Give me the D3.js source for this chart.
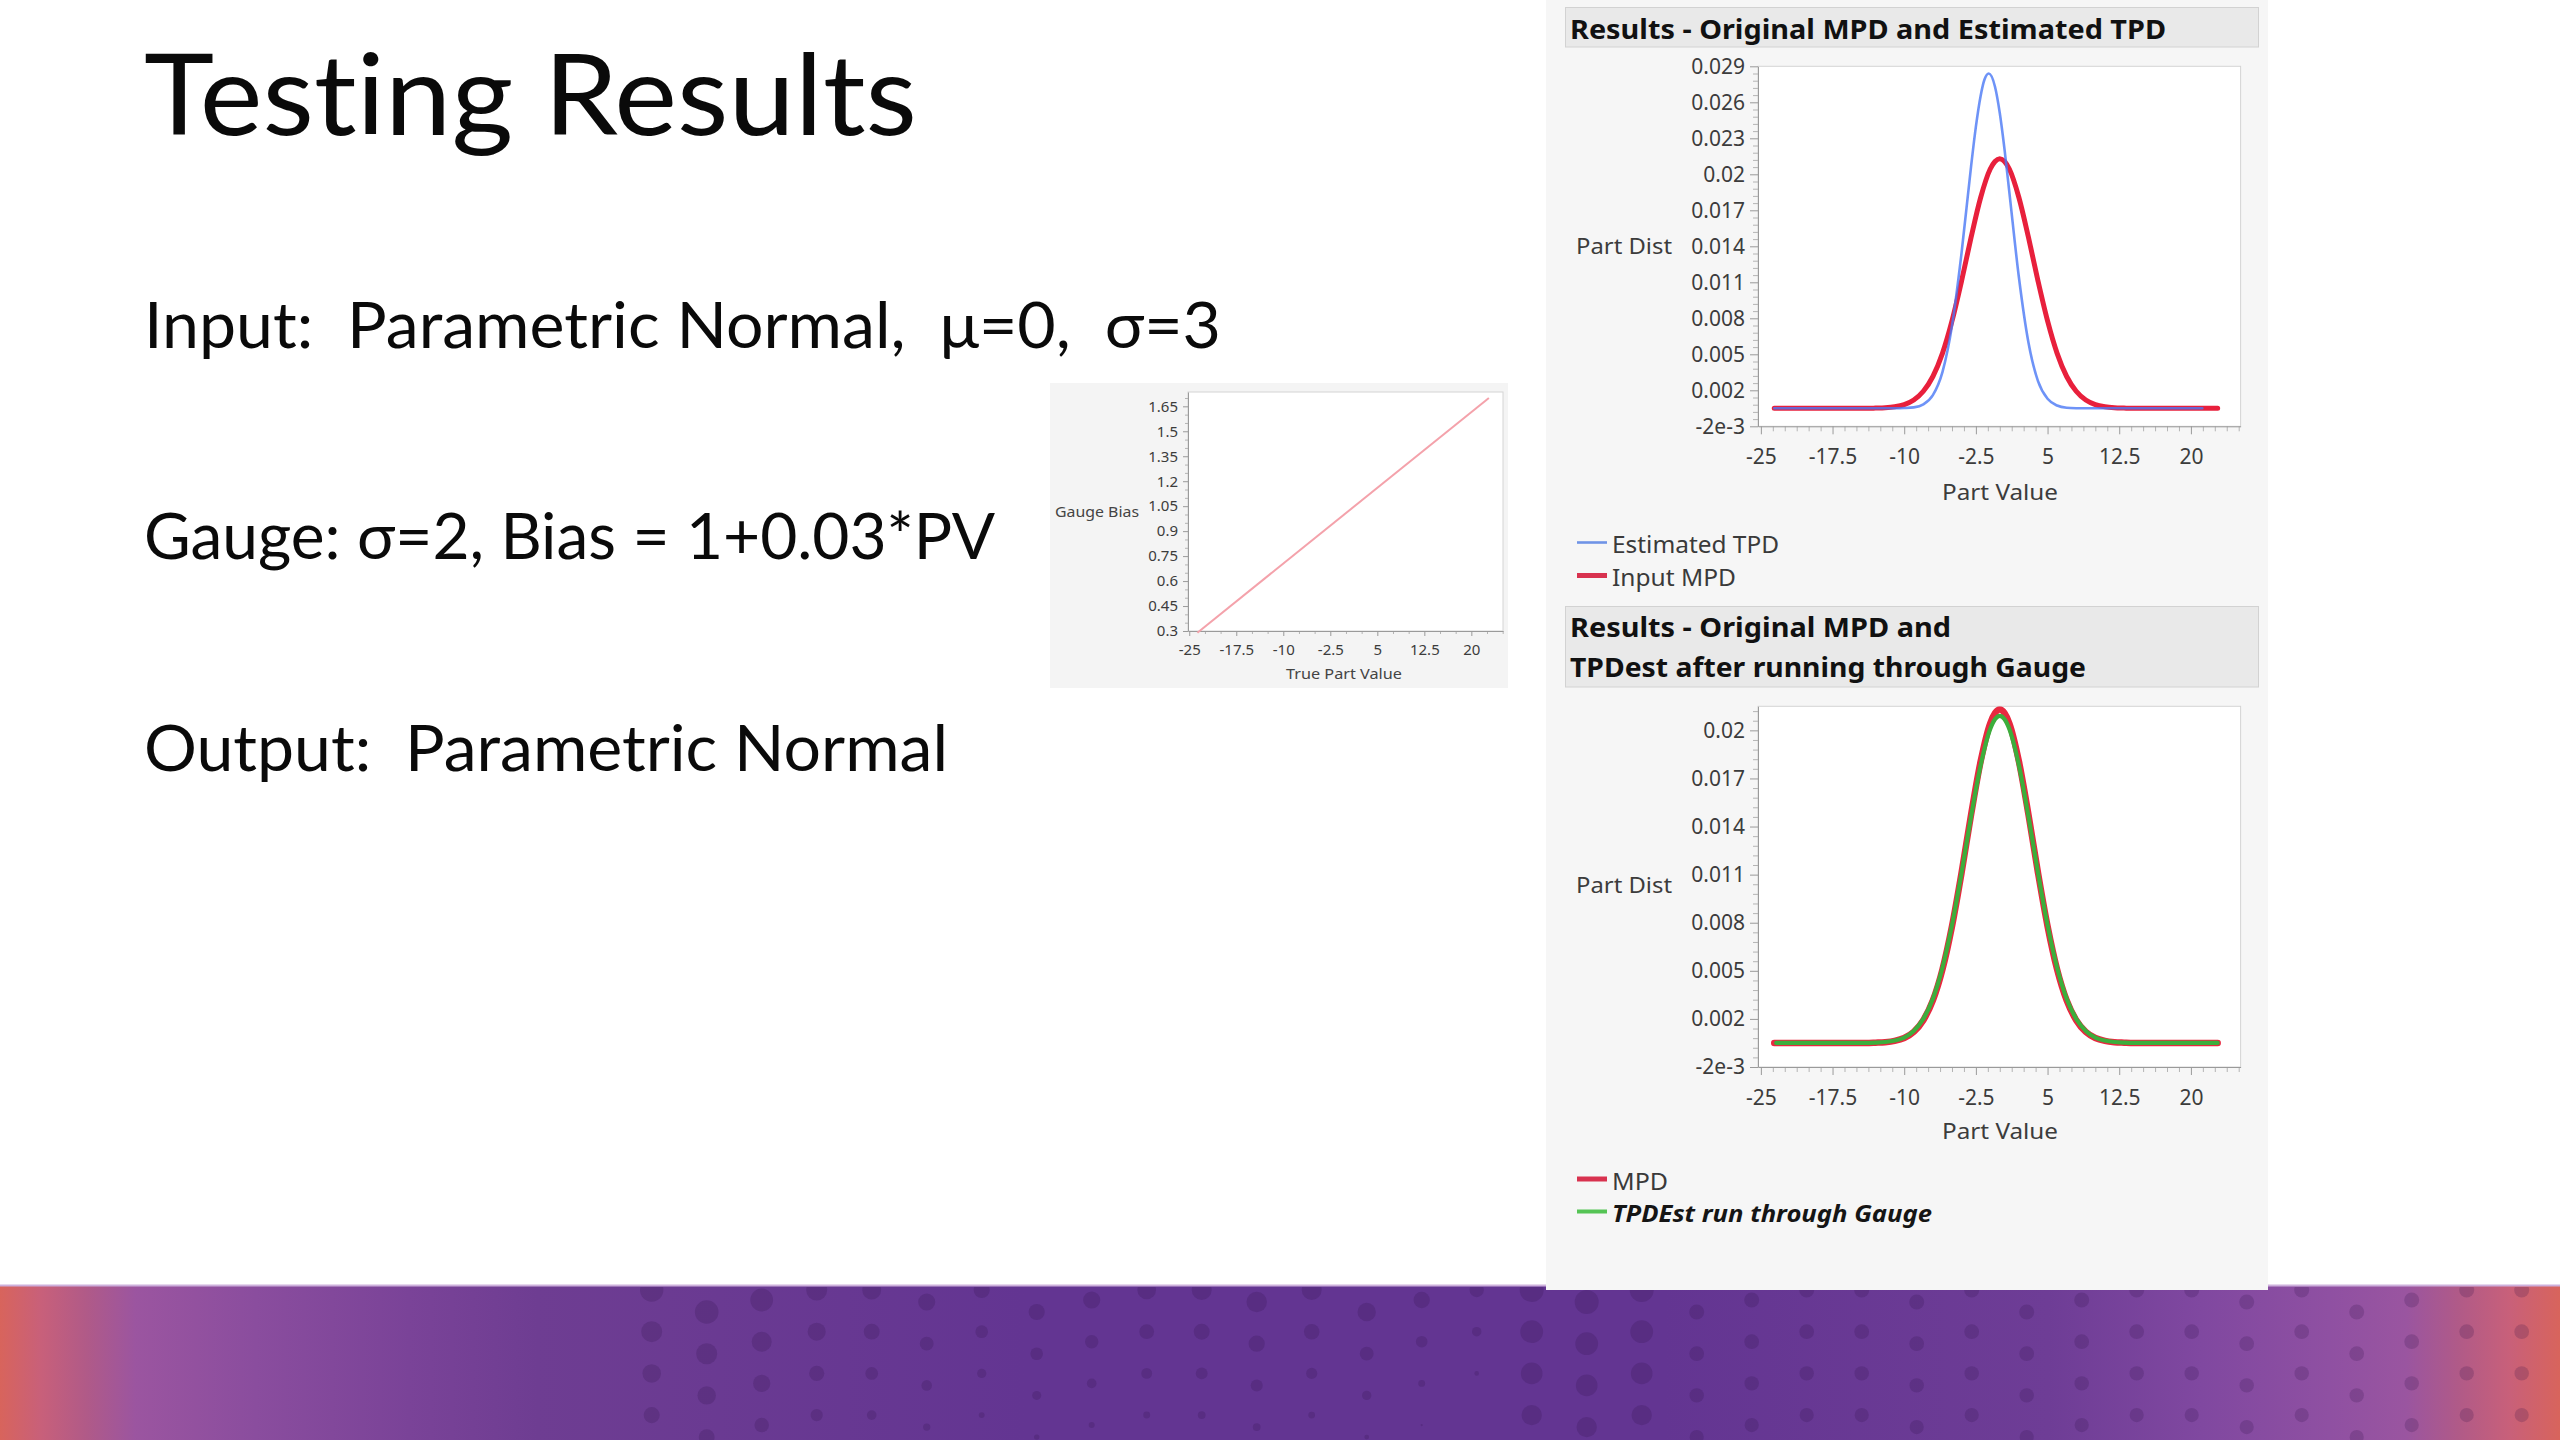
<!DOCTYPE html>
<html>
<head>
<meta charset="utf-8">
<script src="https://cdn.jsdelivr.net/npm/d3@7"></script>
<style>
  body { margin: 0; background: #fff; }
  svg { display: block; }
  text { font-variant-ligatures: none; }
</style>
</head>
<body>
<div id="chart"></div>
<script>
// ---- data ----

// gauge bias vs true part value (small inset)
const biasPV = [-23.7, 22.8];
const biasValue = [0.29, 1.70];
const biasTicks = [0.3, 0.45, 0.6, 0.75, 0.9, 1.05, 1.2, 1.35, 1.5, 1.65];
const biasLabels = ["0.3", "0.45", "0.6", "0.75", "0.9", "1.05", "1.2", "1.35", "1.5", "1.65"];

// part value axis (shared)
const partTicks = [-25, -17.5, -10, -2.5, 5, 12.5, 20];
const partLabels = ["-25", "-17.5", "-10", "-2.5", "5", "12.5", "20"];

// part dist axis ticks (JMP rounds the labels)
const topDistTicks = [-0.0015, 0.0015, 0.0045, 0.0075, 0.0105, 0.0135, 0.0165, 0.0195, 0.0225, 0.0255, 0.0285];
const topDistLabels = ["-2e-3", "0.002", "0.005", "0.008", "0.011", "0.014", "0.017", "0.02", "0.023", "0.026", "0.029"];
const bottomDistTicks = [-0.0015, 0.0015, 0.0045, 0.0075, 0.0105, 0.0135, 0.0165, 0.0195];
const bottomDistLabels = ["-2e-3", "0.002", "0.005", "0.008", "0.011", "0.014", "0.017", "0.02"];

// Estimated TPD (blue)
const tpdX = [-23.6, -18, -14, -12, -11, -10, -9, -8, -7, -6, -5, -4, -3, -2.5, -2, -1.6, -1.15, -0.5, 0, 0.5,
  1, 2, 3, 4, 5, 6, 7, 8, 9, 12, 16, 21.2];
const tpdY = [0, 0, 0, 0, 0, 0.00002, 0.00008, 0.00033, 0.00110, 0.00302, 0.00687, 0.01294, 0.02018, 0.02347, 0.02605, 0.0274, 0.0279, 0.0268, 0.02461, 0.02156,
  0.01802, 0.01092, 0.00548, 0.00227, 0.00079, 0.00023, 0.00005, 0.00001, 0, 0, 0, 0];

// Input MPD / MPD (red)
const mpdX = [-23.6, -20, -16, -14, -13, -12, -11, -10, -9, -8, -7, -6, -5, -4, -3, -2, -1, -0.5, 0,
  0.5, 1, 2, 3, 4, 5, 6, 7, 8, 9, 10, 11, 12, 13, 14, 16, 20, 22.8];
const mpdY = [0, 0, 0, 0, 0.00002, 0.00005, 0.00013, 0.00031, 0.00069, 0.00142, 0.00265, 0.00458, 0.00728, 0.01061, 0.01425, 0.01757, 0.01994, 0.02057, 0.0208,
  0.02057, 0.01994, 0.01757, 0.01425, 0.01061, 0.00728, 0.00458, 0.00265, 0.00142, 0.00069, 0.00031, 0.00013, 0.00005, 0.00002, 0, 0, 0, 0];

// TPDEst run through gauge (green)
const gaugeX = [-23.4, -20, -16, -14, -13, -12, -11, -10, -9, -8, -7, -6, -5, -4, -3, -2, -1, -0.5, 0,
  0.5, 1, 2, 3, 4, 5, 6, 7, 8, 9, 10, 11, 12, 13, 14, 16, 20, 22.8];
const gaugeY = [0, 0, 0, 0, 0.00002, 0.00006, 0.00015, 0.00034, 0.00075, 0.00150, 0.00276, 0.00469, 0.00735, 0.01061, 0.01413, 0.01732, 0.01958, 0.02019, 0.0204,
  0.02019, 0.01958, 0.01732, 0.01413, 0.01061, 0.00735, 0.00469, 0.00276, 0.00150, 0.00075, 0.00034, 0.00015, 0.00006, 0.00002, 0, 0, 0, 0];

// ---- drawing ----
const W = 2560, H = 1440;
const UI = "'Noto Sans', 'Open Sans', sans-serif";
const SLIDE = "Lato, 'Noto Sans', sans-serif";

const svg = d3.select("#chart").append("svg")
  .attr("width", W).attr("height", H)
  .attr("viewBox", [0, 0, W, H])
  .style("background", "#fff");
const defs = svg.append("defs");

// stretch/squeeze text to the width measured on the slide
function fit(sel, w) {
  const cur = sel.node().getComputedTextLength();
  if (Math.abs(cur - w) / w > 0.015) sel.attr("textLength", w).attr("lengthAdjust", "spacingAndGlyphs");
  return sel;
}

// bottom band
const BAND = 1285;
const grad = defs.append("linearGradient").attr("id", "band").attr("x1", 0).attr("x2", 1).attr("y1", 0).attr("y2", 0);
[[0, "#d8645c"], [0.016, "#c8607a"], [0.034, "#b05a88"], [0.053, "#9b55a0"], [0.1, "#8a4d9e"],
 [0.16, "#7a4398"], [0.21, "#6e3d92"], [0.4, "#633592"], [0.65, "#633592"], [0.8, "#6e3d96"],
 [0.86, "#8048a0"], [0.91, "#8f50a2"], [0.94, "#9a55a0"], [0.96, "#b05a88"], [0.98, "#c8607a"], [1, "#d8645c"]]
  .forEach(([o, c]) => grad.append("stop").attr("offset", o).attr("stop-color", c));

svg.append("rect").attr("x", 0).attr("y", BAND).attr("width", W).attr("height", H - BAND).attr("fill", "url(#band)");
svg.append("line").attr("x1", 0).attr("x2", W).attr("y1", BAND + 0.5).attr("y2", BAND + 0.5)
  .attr("stroke", "#cdb0dc").attr("stroke-width", 2);

// halftone dots on the band
defs.append("clipPath").attr("id", "bandClip").append("rect")
  .attr("x", 0).attr("y", BAND + 2).attr("width", W).attr("height", H - BAND);
const dots = svg.append("g").attr("clip-path", "url(#bandClip)")
  .attr("fill", "#2b0d48").attr("fill-opacity", 0.2);
for (let k = -9; k <= 26; k++) {
  const cx = 1146.7 + 55 * k;
  if (cx < 630 || cx > W + 10) continue;
  const off = [0, 0, 12, 0, 22, 10][((k % 6) + 6) % 6];
  for (let row = 0; row < 5; row++) {
    const cy = 1290 + off + row * 41.7;
    let r;
    if (cx < 1520) {
      const t = (cx - 640) / 880;
      r = 10.5 - 2.5 * t + 1.5 * Math.sin(cx / 90) - (1.2 + 1.3 * t) * row;
    } else if (cx < 1660) {
      r = 12 - 0.6 * row;
    } else {
      r = 7.5 - 0.15 * row;
    }
    if (r > 1) dots.append("circle").attr("cx", cx).attr("cy", cy).attr("r", r);
  }
}

// slide text
fit(svg.append("text").attr("x", 144).attr("y", 135)
  .attr("font-family", SLIDE).attr("font-size", 113).attr("fill", "#0a0a0a")
  .text("Testing Results"), 773);

const lines = [
  ["Input:  Parametric Normal,  \u03bc=0,  \u03c3=3", 348, 1077],
  ["Gauge: \u03c3=2, Bias = 1+0.03*PV", 559, 863],
  ["Output:  Parametric Normal", 771, 804]
];
lines.forEach(([t, y, w]) => {
  fit(svg.append("text").attr("x", 144).attr("y", y)
    .attr("font-family", SLIDE).attr("font-size", 64).attr("fill", "#0a0a0a")
    .style("white-space", "pre").text(t), w);
});

// axis styling helper
function styleAxis(g, fs) {
  g.selectAll("line").attr("stroke", "#9a9a9a");
  g.selectAll("path").attr("stroke", "#9a9a9a");
  g.selectAll("text").attr("fill", "#3c3c3c").attr("font-family", UI).attr("font-size", fs);
}
function minorAxis(g, axisFn, scale, values, size) {
  g.call(axisFn(scale).tickValues(values).tickSize(size).tickFormat(""));
  g.select(".domain").remove();
  g.selectAll("line").attr("stroke", "#b4b4b4");
}

// ---- inset: gauge bias ----
{
  svg.append("rect").attr("x", 1050).attr("y", 383).attr("width", 458).attr("height", 305).attr("fill", "#f4f4f4");
  const L = 1188, R = 1503, T = 392, B = 631;
  const x = d3.scaleLinear().domain([-25.2, 25.05]).range([L, R]);
  const y = d3.scaleLinear().domain([0.3, 1.736]).range([B, T]);
  svg.append("rect").attr("x", L).attr("y", T).attr("width", R - L).attr("height", B - T)
    .attr("fill", "#fff").attr("stroke", "#d4d4d4");

  const majX = new Set(partTicks);
  minorAxis(svg.append("g").attr("transform", `translate(0,${B})`), d3.axisBottom, x,
    d3.range(-25, 25.01, 2.5).filter(v => !majX.has(v)), 3);
  minorAxis(svg.append("g").attr("transform", `translate(${L},0)`), d3.axisLeft, y,
    d3.range(0.35, 1.736, 0.05).filter(v => Math.abs(((v - 0.3) / 0.15) - Math.round((v - 0.3) / 0.15)) > 0.01), 3);

  const ax = svg.append("g").attr("transform", `translate(0,${B})`)
    .call(d3.axisBottom(x).tickValues(partTicks).tickFormat((d, i) => partLabels[i]).tickSize(5).tickPadding(8).tickSizeOuter(0));
  styleAxis(ax, 15);
  const ay = svg.append("g").attr("transform", `translate(${L},0)`)
    .call(d3.axisLeft(y).tickValues(biasTicks).tickFormat((d, i) => biasLabels[i]).tickSize(5).tickPadding(5).tickSizeOuter(0));
  styleAxis(ay, 15);

  svg.append("path")
    .datum(biasPV.map((v, i) => [v, biasValue[i]]))
    .attr("fill", "none").attr("stroke", "#f4a2ab").attr("stroke-width", 2)
    .attr("d", d3.line().x(d => x(d[0])).y(d => y(d[1])));

  fit(svg.append("text").attr("x", 1139).attr("y", 517).attr("text-anchor", "end")
    .attr("font-family", UI).attr("font-size", 15).attr("fill", "#444").text("Gauge Bias"), 84);
  fit(svg.append("text").attr("x", 1344).attr("y", 679).attr("text-anchor", "middle")
    .attr("font-family", UI).attr("font-size", 15).attr("fill", "#444").text("True Part Value"), 116);
}

// ---- right panel ----
svg.append("rect").attr("x", 1546).attr("y", 0).attr("width", 722).attr("height", 1290).attr("fill", "#f6f6f6");

function header(y, h, rows) {
  svg.append("rect").attr("x", 1565.5).attr("y", y).attr("width", 693).attr("height", h)
    .attr("fill", "#e9e9e9").attr("stroke", "#d2d2d2");
  rows.forEach(([t, by, w]) => {
    fit(svg.append("text").attr("x", 1570).attr("y", by)
      .attr("font-family", UI).attr("font-weight", 700).attr("font-size", 27).attr("fill", "#111")
      .text(t), w);
  });
}

function distPlot(cfg) {
  const L = 1758, R = 2240.6;
  const x = d3.scaleLinear().domain([-25.3, 25.2]).range([L, R]);
  const y = d3.scaleLinear().domain(cfg.yDomain).range([cfg.B, cfg.T]);

  svg.append("rect").attr("x", L).attr("y", cfg.T).attr("width", R - L).attr("height", cfg.B - cfg.T)
    .attr("fill", "#fff").attr("stroke", "#d4d4d4");

  const majX = new Set(partTicks);
  minorAxis(svg.append("g").attr("transform", `translate(0,${cfg.B})`), d3.axisBottom, x,
    d3.range(-25, 25.01, 1.25).filter(v => !majX.has(v)), 5);
  const yMinor = [];
  for (let v = cfg.yDomain[0]; v <= cfg.yDomain[1] + 1e-9; v += 0.0006) {
    const k = (v - cfg.yDomain[0]) / 0.003;
    if (Math.abs(k - Math.round(k)) > 0.01) yMinor.push(v);
  }
  minorAxis(svg.append("g").attr("transform", `translate(${L},0)`), d3.axisLeft, y, yMinor, 5);

  const ax = svg.append("g").attr("transform", `translate(0,${cfg.B})`)
    .call(d3.axisBottom(x).tickValues(partTicks).tickFormat((d, i) => partLabels[i]).tickSize(8).tickPadding(15).tickSizeOuter(0));
  styleAxis(ax, 21);
  const ay = svg.append("g").attr("transform", `translate(${L},0)`)
    .call(d3.axisLeft(y).tickValues(cfg.yTicks).tickFormat((d, i) => cfg.yLabels[i]).tickSize(8).tickPadding(5).tickSizeOuter(0));
  styleAxis(ay, 21);

  const clipId = "clip" + Math.round(cfg.T);
  defs.append("clipPath").attr("id", clipId).append("rect")
    .attr("x", L).attr("y", cfg.T).attr("width", R - L).attr("height", cfg.B - cfg.T);
  const plot = svg.append("g").attr("clip-path", `url(#${clipId})`);
  const line = d3.line().x(d => x(d[0])).y(d => y(d[1])).curve(d3.curveMonotoneX);
  cfg.series.forEach(s => {
    plot.append("path")
      .datum(s.xs.map((v, i) => [v, s.ys[i]]))
      .attr("fill", "none").attr("stroke", s.color).attr("stroke-width", s.width)
      .attr("stroke-opacity", s.opacity || 1)
      .attr("stroke-linejoin", "round").attr("stroke-linecap", "round")
      .attr("d", line);
  });

  fit(svg.append("text").attr("x", 1672).attr("y", cfg.yTitle).attr("text-anchor", "end")
    .attr("font-family", UI).attr("font-size", 22).attr("fill", "#3c3c3c").text("Part Dist"), 96);
  fit(svg.append("text").attr("x", 2000).attr("y", cfg.xTitle).attr("text-anchor", "middle")
    .attr("font-family", UI).attr("font-size", 22).attr("fill", "#3c3c3c").text("Part Value"), 116);

  cfg.legend.forEach(lg => {
    svg.append("line").attr("x1", 1577).attr("x2", 1607).attr("y1", lg.y).attr("y2", lg.y)
      .attr("stroke", lg.color).attr("stroke-width", lg.width);
    const t = svg.append("text").attr("x", 1612).attr("y", lg.y + 10.5)
      .attr("font-family", UI).attr("font-size", 23).attr("fill", lg.bold ? "#151515" : "#3a3a3a")
      .attr("font-weight", lg.bold ? 700 : 400).attr("font-style", lg.bold ? "italic" : "normal")
      .text(lg.label);
    fit(t, lg.w);
  });
}

header(7.5, 39.5, [["Results - Original MPD and Estimated TPD", 38.5, 596]]);
distPlot({
  T: 66.3, B: 426.3,
  yDomain: [-0.0015, 0.0285],
  yTicks: topDistTicks, yLabels: topDistLabels,
  yTitle: 254, xTitle: 500,
  series: [
    { xs: mpdX, ys: mpdY, color: "#e8203c", width: 5 },
    { xs: tpdX, ys: tpdY, color: "#4a78f5", width: 2.6, opacity: 0.8 }
  ],
  legend: [
    { label: "Estimated TPD", color: "#6f93e6", width: 2.6, y: 542.5, w: 167 },
    { label: "Input MPD", color: "#d8324f", width: 5, y: 575.5, w: 124 }
  ]
});

header(606.5, 80.5, [["Results - Original MPD and", 636.6, 381], ["TPDest after running through Gauge", 676.8, 516]]);
distPlot({
  T: 706.3, B: 1067,
  yDomain: [-0.0015, 0.021],
  yTicks: bottomDistTicks, yLabels: bottomDistLabels,
  yTitle: 893, xTitle: 1139,
  series: [
    { xs: mpdX, ys: mpdY, color: "#e8283f", width: 6.5 },
    { xs: gaugeX, ys: gaugeY, color: "#3cae3c", width: 4.2 }
  ],
  legend: [
    { label: "MPD", color: "#d8324f", width: 5, y: 1179, w: 56 },
    { label: "TPDEst run through Gauge", color: "#55c455", width: 4, y: 1211.5, w: 320, bold: true }
  ]
});
</script>
</body>
</html>
